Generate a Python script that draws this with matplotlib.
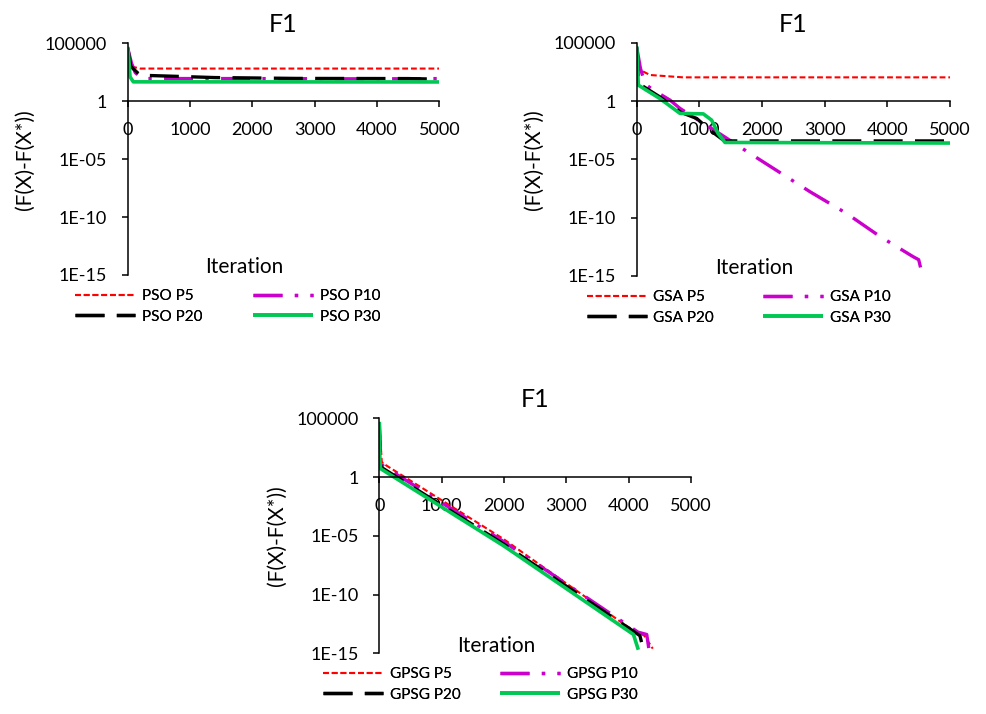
import matplotlib.pyplot as plt
from matplotlib.lines import Line2D
from matplotlib.ticker import FixedLocator, FixedFormatter, NullLocator

plt.rcParams['font.family'] = ['Lato', 'DejaVu Sans']

# axis ticks shared by the three panels
x_ticks = [0, 1000, 2000, 3000, 4000, 5000]
y_ticks = [1e-15, 1e-10, 1e-5, 1, 1e5]
y_tick_labels = ['1E-15', '1E-10', '1E-05', '1', '100000']
pop_labels = ['P5', 'P10', 'P20', 'P30']

# PSO convergence on F1 (iteration, F(X)-F(X*))
pso_p5_it = [0, 40, 90, 200, 5000]
pso_p5_val = [3.7e4, 3.0e3, 9.1e2, 6.6e2, 6.6e2]
pso_p10_it = [0, 60, 120, 225, 2000, 4000, 5000]
pso_p10_val = [4.0e4, 2.0e3, 3.0e2, 9.1e1, 9.0e1, 8.5e1, 9.0e1]
pso_p20_it = [0, 50, 200, 700, 1400, 2700, 4500, 5000]
pso_p20_val = [4.0e4, 1.0e3, 1.75e2, 1.45e2, 1.1e2, 9.3e1, 9.0e1, 8.0e1]
pso_p30_it = [0, 20, 37, 90, 5000]
pso_p30_val = [5.0e4, 3.0e3, 1.3e2, 4.7e1, 4.6e1]

# GSA
gsa_p5_it = [0, 20, 53, 213, 740, 5000]
gsa_p5_val = [4.0e4, 3.0e3, 4.6e2, 1.7e2, 1.07e2, 1.07e2]
gsa_p10_it = [0, 60, 133, 265, 531, 692, 1382, 1808, 2764, 3350, 3880, 4412, 4500, 4545]
gsa_p10_val = [4.0e4, 6.3e2, 2.9e1, 8.7, 1.2, 2.3e-1, 1.0e-3, 3.2e-5, 1.7e-8,
               2.3e-10, 2.5e-12, 4.5e-14, 2.5e-14, 2.5e-15]
gsa_p20_it = [0, 30, 372, 700, 957, 1169, 1400, 5000]
gsa_p20_val = [4.0e4, 3.2e1, 2.2, 1.1e-1, 3.2e-2, 3.2e-3, 3.8e-4, 3.8e-4]
gsa_p30_it = [0, 26, 372, 691, 1063, 1196, 1297, 1409, 5000]
gsa_p30_val = [5.0e4, 2.3e1, 1.6, 8.7e-2, 7.9e-2, 2.3e-2, 1.7e-3, 2.8e-4, 2.5e-4]

# GPSG
gpsg_p5_it = [0, 40, 64, 1995, 3973, 4250, 4387]
gpsg_p5_val = [4.0e4, 2.0e1, 1.4e1, 5.2e-6, 2.0e-13, 3.2e-14, 2.5e-15]
gpsg_p10_it = [0, 20, 60, 1995, 4150, 4290, 4322]
gpsg_p10_val = [4.0e4, 2.0e1, 8.9, 3.2e-6, 6.3e-14, 4.0e-14, 2.8e-15]
gpsg_p20_it = [0, 15, 40, 1995, 4180, 4237]
gpsg_p20_val = [4.0e4, 1.3e1, 6.3, 2.0e-6, 3.2e-14, 2.0e-15]
gpsg_p30_it = [0, 10, 20, 1995, 4077, 4155]
gpsg_p30_val = [5.0e4, 3.2e1, 5.2, 1.4e-6, 4.0e-14, 2.0e-15]

# line look per population size
styles = [
    dict(color='#ff0000', lw=1.5, dashes=(2.8, 1.4)),
    dict(color='#cc00cc', lw=2.4, dashes=(8.7, 3.7, 1.0, 3.7)),
    dict(color='#000000', lw=2.4, dashes=(8.7, 3.7)),
    dict(color='#00c853', lw=2.6),
]

W, H = 986, 714


def px_box(x0, y_top, x1, y_bot):
    return [x0 / W, 1 - y_bot / H, (x1 - x0) / W, (y_bot - y_top) / H]


def draw_panel(fig, box, name, series, leg_x, leg_y):
    ax = fig.add_axes(box)
    for (it, val), st in zip(series, styles):
        ax.plot(it, val, solid_capstyle='butt', dash_capstyle='butt', **st)

    ax.set_yscale('log')
    ax.set_xlim(0, 5000)
    ax.set_ylim(1e-15, 1e5)
    ax.yaxis.set_major_locator(FixedLocator(y_ticks))
    ax.yaxis.set_major_formatter(FixedFormatter(y_tick_labels))
    ax.yaxis.set_minor_locator(NullLocator())
    ax.set_xticks(x_ticks)
    for s in ['top', 'right']:
        ax.spines[s].set_visible(False)
    ax.spines['bottom'].set_position(('data', 1))
    for s in ['left', 'bottom']:
        ax.spines[s].set_linewidth(1.1)
    ax.tick_params(direction='out', length=4, width=1.1, labelsize=13)
    ax.tick_params(axis='y', pad=11)
    ax.tick_params(axis='x', pad=11)
    ax.set_axisbelow(True)

    ax.set_title('F1', fontsize=18, pad=8)
    ax.set_ylabel('(F(X)-F(X*))', fontsize=15)
    ax.yaxis.set_label_coords(-0.297, 0.5)
    ax.text(0.375, 0.033, 'Iteration', transform=ax.transAxes,
            ha='center', va='center', fontsize=15)

    handles = [Line2D([], [], solid_capstyle='butt', dash_capstyle='butt', **st)
               for st in styles]
    labels = [f'{name} {p}' for p in pop_labels]
    # two legend columns: (P5, P20) and (P10, P30)
    for col, xpos in enumerate(leg_x):
        idx = [col, col + 2]
        leg = fig.legend([handles[i] for i in idx], [labels[i] for i in idx],
                         loc='upper left', bbox_to_anchor=(xpos / W, 1 - leg_y / H),
                         frameon=False, fontsize=11, borderpad=0, borderaxespad=0,
                         handlelength=3.93, handletextpad=0.43, labelspacing=0.44)
        fig.add_artist(leg)
    return ax


fig = plt.figure(figsize=(W / 100, H / 100), dpi=100)

draw_panel(fig, px_box(127.7, 43.3, 439.3, 275), 'PSO',
           [(pso_p5_it, pso_p5_val), (pso_p10_it, pso_p10_val),
            (pso_p20_it, pso_p20_val), (pso_p30_it, pso_p30_val)],
           (75, 253.3), 289)
draw_panel(fig, px_box(636.7, 42.7, 950, 276), 'GSA',
           [(gsa_p5_it, gsa_p5_val), (gsa_p10_it, gsa_p10_val),
            (gsa_p20_it, gsa_p20_val), (gsa_p30_it, gsa_p30_val)],
           (586.7, 763.3), 290)
draw_panel(fig, px_box(379.3, 418.3, 691, 653.3), 'GPSG',
           [(gpsg_p5_it, gpsg_p5_val), (gpsg_p10_it, gpsg_p10_val),
            (gpsg_p20_it, gpsg_p20_val), (gpsg_p30_it, gpsg_p30_val)],
           (323.3, 500), 667)

fig.savefig('out.png', dpi=100)
